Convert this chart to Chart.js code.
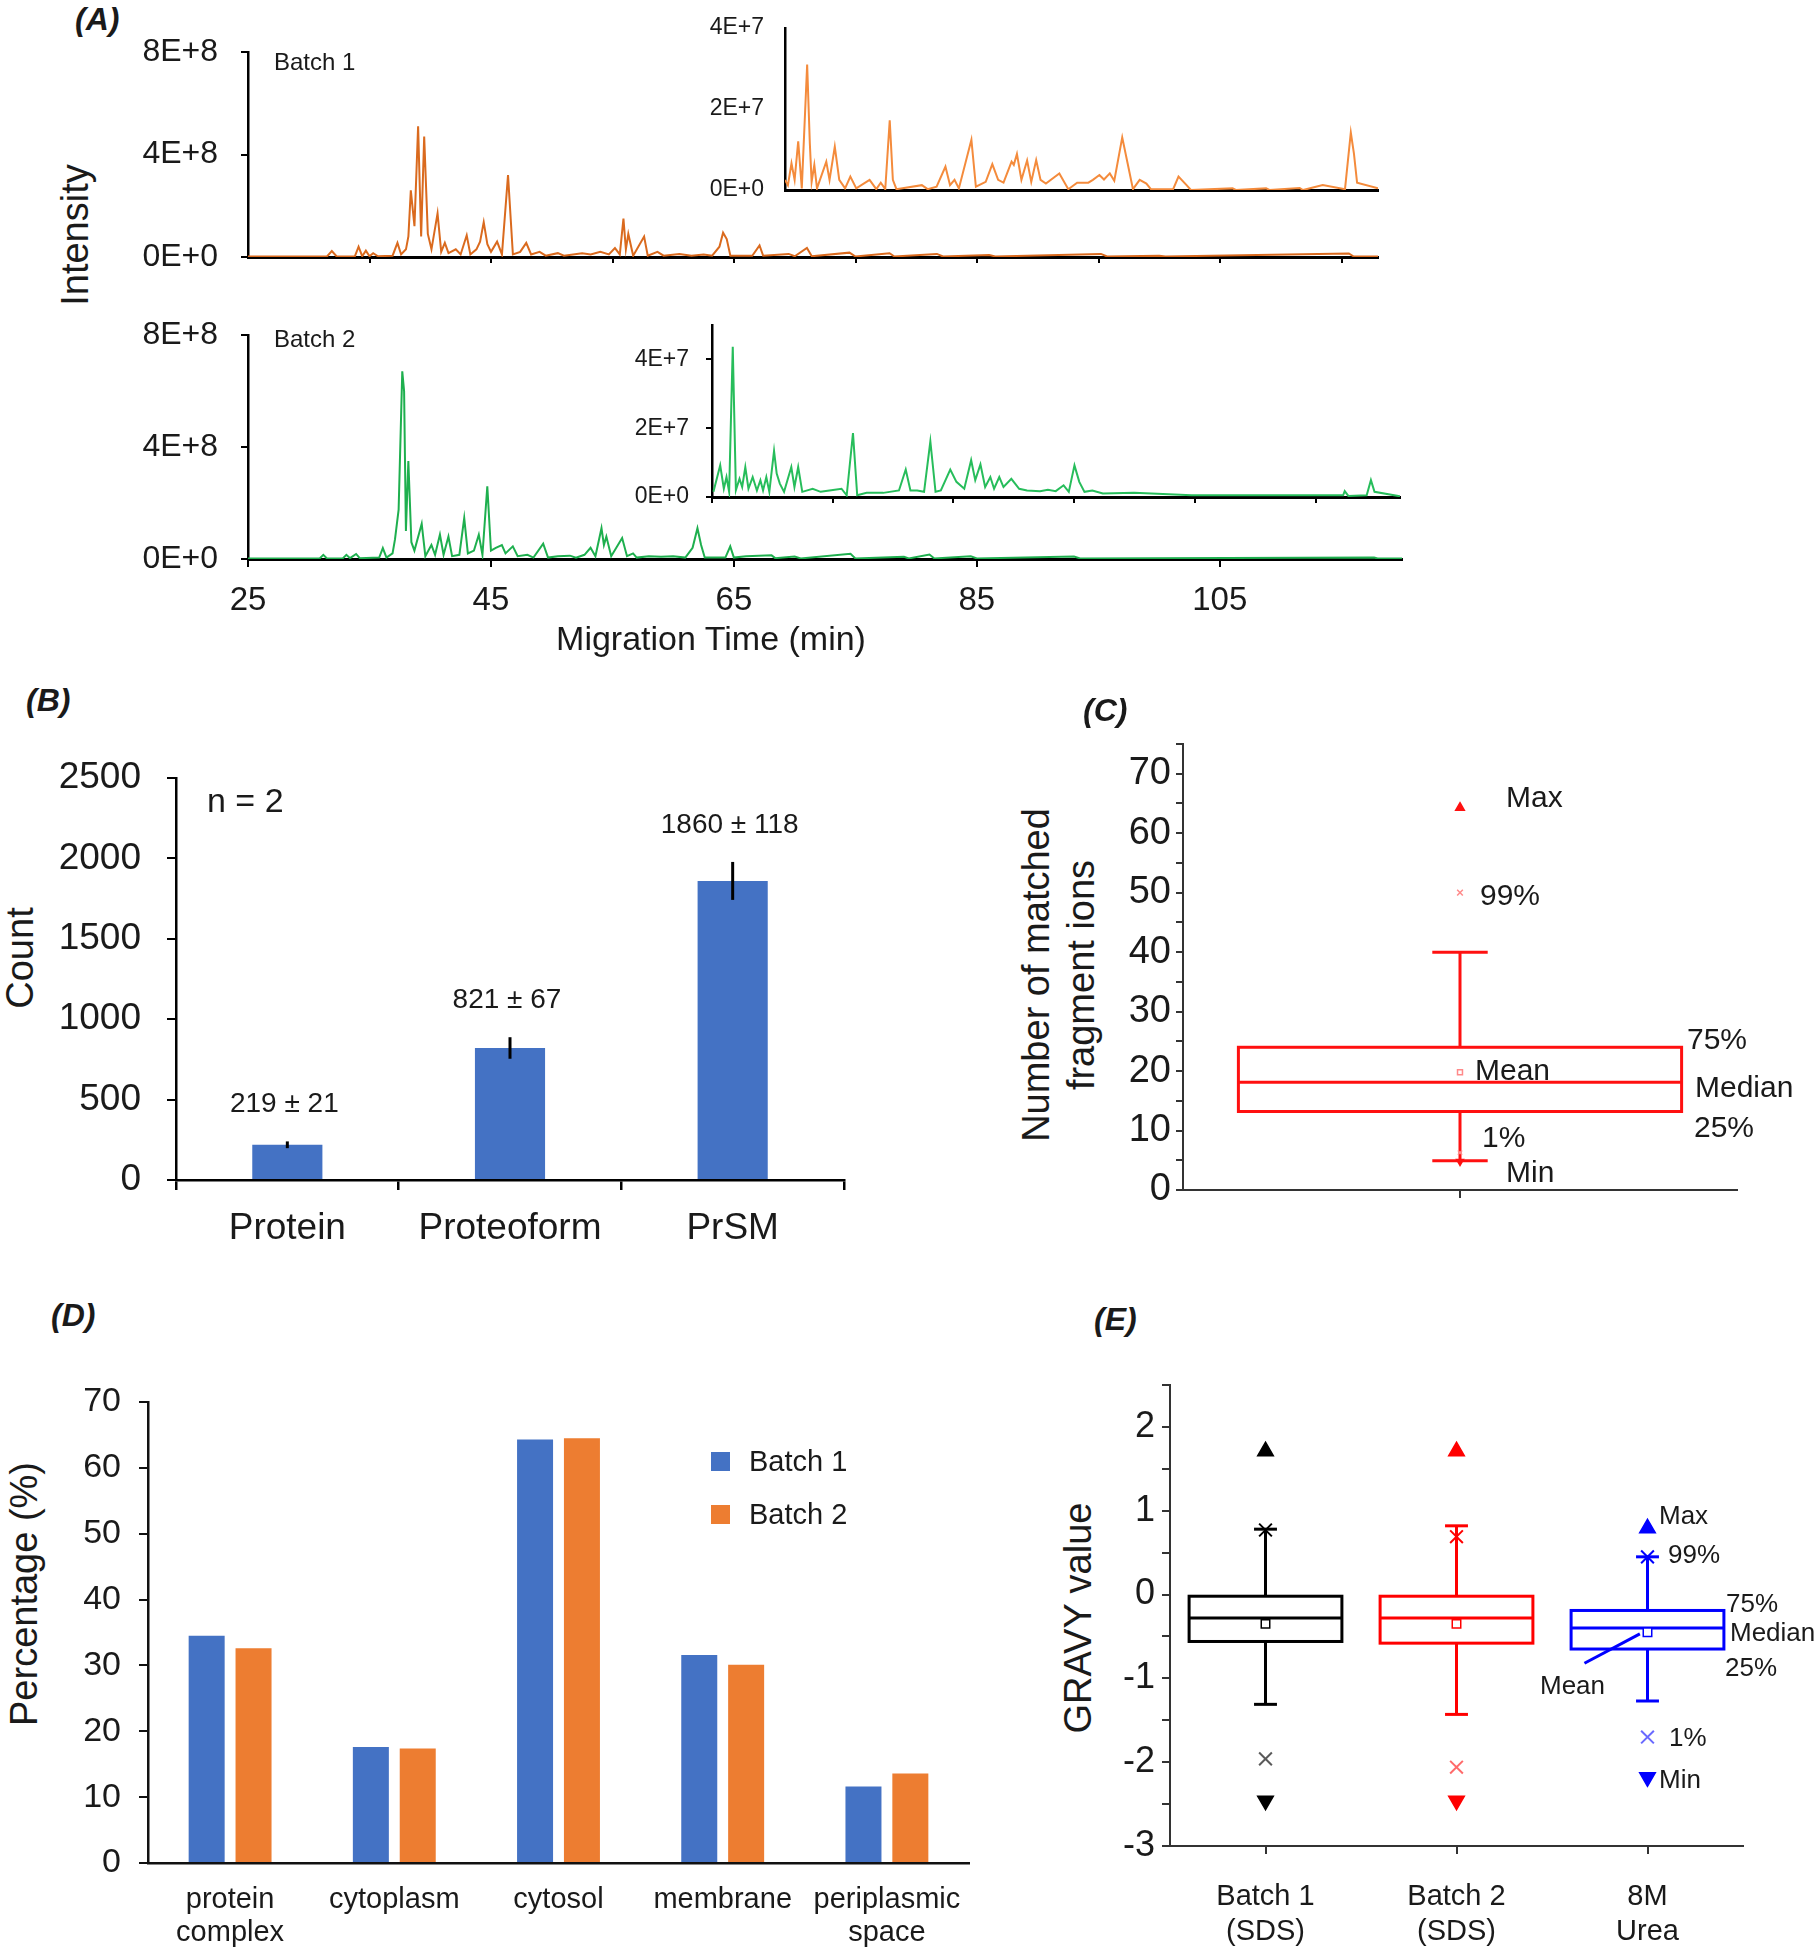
<!DOCTYPE html>
<html>
<head>
<meta charset="utf-8">
<script src="https://cdn.jsdelivr.net/npm/chart.js@4.4.1/dist/chart.umd.min.js"></script>
<style>
  body { margin: 0; background: #fff; width: 1817px; height: 1950px; position: relative; overflow: hidden;
         font-family: 'Liberation Sans', Arial, sans-serif; color: #1a1a1a; }
  canvas { position: absolute; }
  .t { position: absolute; white-space: nowrap; line-height: 1; transform: translateY(-50%); }
  .c { transform: translate(-50%, -50%); }
  .r { transform: translate(-50%, -50%) rotate(-90deg); }
  .p { font-weight: bold; font-style: italic; }
  .sq { position: absolute; width: 19px; height: 19px; }
</style>
</head>
<body>
<canvas id="a1"></canvas>
<canvas id="a1i"></canvas>
<canvas id="a2"></canvas>
<canvas id="a2i"></canvas>
<canvas id="b"></canvas>
<canvas id="c"></canvas>
<canvas id="d"></canvas>
<canvas id="e"></canvas>
<div id="txt"></div>

<script>
// ---- (A) electropherograms: migration time (min) / intensity ----
const batch1Time = [25, 31.5, 31.9, 32.3, 33.8, 34.1, 34.4, 34.7, 35, 35.3, 35.7, 36.9, 37.3, 37.6, 38, 38.2, 38.4, 38.7, 39, 39.25,
  39.5, 39.8, 40.1, 40.6, 40.9, 41.2, 41.5, 42.1, 42.5, 43, 43.3, 43.8, 44.1, 44.4, 44.7, 45, 45.5, 45.9, 46.4, 46.8,
  47.4, 47.9, 48.3, 49, 49.5, 50.5, 51, 52.5, 53.2, 54, 54.7, 55.2, 55.6, 55.9, 56.1, 56.3, 56.7, 57.6, 57.9, 58.7,
  59.2, 60.5, 61.5, 62.5, 63.2, 63.8, 64.1, 64.4, 64.7, 66.5, 67.1, 67.4, 69.5, 70, 71, 71.4, 74.5, 75, 77.8, 78.2,
  81.7, 82.2, 86, 86.5, 95.2, 95.7, 100, 100.5, 115.6, 116, 118];
const batch1Intensity = [0.02e8, 0.02e8, 0.23e8, 0.02e8, 0.03e8, 0.4e8, 0.03e8, 0.25e8, 0.03e8, 0.15e8, 0.03e8, 0.05e8, 0.55e8, 0.1e8, 0.3e8, 0.8e8, 2.6e8, 1.2e8, 5.1e8, 0.8e8,
  4.7e8, 0.9e8, 0.3e8, 1.7e8, 0.2e8, 0.55e8, 0.15e8, 0.3e8, 0.1e8, 0.85e8, 0.1e8, 0.3e8, 0.6e8, 1.36e8, 0.5e8, 0.2e8, 0.6e8, 0.1e8, 3.2e8, 0.1e8,
  0.2e8, 0.55e8, 0.1e8, 0.2e8, 0.05e8, 0.15e8, 0.05e8, 0.15e8, 0.1e8, 0.2e8, 0.1e8, 0.35e8, 0.1e8, 1.5e8, 0.3e8, 0.9e8, 0.05e8, 0.8e8, 0.05e8, 0.2e8,
  0.05e8, 0.12e8, 0.05e8, 0.1e8, 0.05e8, 0.4e8, 0.95e8, 0.7e8, 0.05e8, 0.05e8, 0.45e8, 0.05e8, 0.12e8, 0.03e8, 0.35e8, 0.03e8, 0.17e8, 0.02e8, 0.15e8, 0.02e8,
  0.12e8, 0.02e8, 0.08e8, 0.02e8, 0.12e8, 0.02e8, 0.05e8, 0.02e8, 0.14e8, 0.02e8, 0.02e8];

const batch1InsetTime = [65, 65.26, 65.58, 65.86, 66.18, 66.5, 66.98, 67.22, 67.38, 67.62, 67.86, 68.69, 68.98, 69.45, 69.85, 70.37, 70.84, 71.37, 72.56, 73.16,
  73.56, 73.96, 74.36, 74.64, 74.96, 77.23, 77.75, 78.55, 79.34, 79.75, 80.15, 80.54, 81.66, 82.06, 82.94, 83.53, 84.05, 84.53, 85.25, 85.45,
  85.73, 86.13, 86.64, 87.01, 87.45, 87.84, 88.32, 89.52, 90.32, 91.11, 92.11, 92.52, 93.1, 93.51, 94.03, 94.43, 95.14, 95.62, 96.1, 96.7,
  97.3, 97.7, 99.69, 100.17, 100.89, 101.28, 105, 105.3, 108, 108.3, 111, 111.3, 113.06, 115.05, 115.57, 115.85, 116.13, 118];
const batch1InsetIntensity = [0.25e7, 0.12e7, 0.66e7, 0.25e7, 1.2e7, 0.04e7, 3.1e7, 1.15e7, 0.2e7, 0.62e7, 0.04e7, 0.7e7, 0.25e7, 1.07e7, 0.25e7, 0.04e7, 0.33e7, 0.04e7, 0.25e7, 0.02e7,
  0.18e7, 0.02e7, 1.72e7, 0.25e7, 0.02e7, 0.12e7, 0.02e7, 0.08e7, 0.58e7, 0.12e7, 0.25e7, 0.04e7, 1.24e7, 0.08e7, 0.2e7, 0.64e7, 0.25e7, 0.18e7, 0.7e7, 0.62e7,
  0.89e7, 0.25e7, 0.73e7, 0.2e7, 0.74e7, 0.25e7, 0.16e7, 0.41e7, 0.02e7, 0.18e7, 0.18e7, 0.25e7, 0.37e7, 0.26e7, 0.41e7, 0.23e7, 1.3e7, 0.66e7, 0.02e7, 0.25e7,
  0.16e7, 0.02e7, 0.02e7, 0.33e7, 0.12e7, 0, 0.04e7, 0, 0.04e7, 0, 0.05e7, 0, 0.12e7, 0.02e7, 1.42e7, 0.9e7, 0.18e7, 0.04e7];

const batch2Time = [25, 30.9, 31.2, 31.5, 32.8, 33.1, 33.4, 33.9, 34.2, 35.8, 36.1, 36.4, 36.9, 37.1, 37.4, 37.7, 37.85, 38, 38.2, 38.45,
  38.7, 39.3, 39.6, 40.1, 40.4, 40.8, 41.1, 41.5, 41.8, 42.4, 42.8, 43.1, 43.6, 44, 44.3, 44.7, 45, 45.4, 45.9, 46.2,
  46.8, 47.2, 48, 48.5, 49.3, 49.7, 50.5, 51.5, 52, 52.7, 53.2, 53.6, 54.1, 54.3, 54.5, 54.9, 55.8, 56.2, 56.7, 57,
  58, 59, 60, 61, 61.6, 62, 62.3, 62.6, 64.3, 64.7, 65, 66, 68.1, 68.4, 70, 70.5, 74.6, 75, 79, 79.4,
  81.1, 81.5, 84.5, 85, 93, 93.5, 117.7, 118, 120];
const batch2Intensity = [0.02e8, 0.02e8, 0.15e8, 0.02e8, 0.02e8, 0.15e8, 0.03e8, 0.18e8, 0.03e8, 0.05e8, 0.39e8, 0.05e8, 0.2e8, 0.7e8, 1.76e8, 6.7e8, 6.0e8, 1.0e8, 3.5e8, 0.6e8,
  0.3e8, 1.26e8, 0.1e8, 0.5e8, 0.15e8, 0.87e8, 0.15e8, 0.8e8, 0.1e8, 0.15e8, 1.46e8, 0.2e8, 0.3e8, 0.87e8, 0.15e8, 2.6e8, 0.3e8, 0.4e8, 0.5e8, 0.2e8,
  0.45e8, 0.1e8, 0.15e8, 0.05e8, 0.55e8, 0.05e8, 0.1e8, 0.12e8, 0.05e8, 0.15e8, 0.4e8, 0.1e8, 1.1e8, 0.5e8, 0.8e8, 0.1e8, 0.75e8, 0.1e8, 0.2e8, 0.05e8,
  0.1e8, 0.08e8, 0.1e8, 0.05e8, 0.4e8, 1.1e8, 0.5e8, 0.05e8, 0.05e8, 0.45e8, 0.05e8, 0.1e8, 0.13e8, 0.03e8, 0.09e8, 0.02e8, 0.19e8, 0.02e8, 0.08e8, 0.02e8,
  0.16e8, 0.02e8, 0.1e8, 0.02e8, 0.09e8, 0.02e8, 0.05e8, 0.02e8, 0.02e8];

const batch2InsetTime = [63.12, 63.68, 63.98, 64.2, 64.42, 64.72, 64.98, 65.28, 65.5, 65.76, 66.02, 66.37, 66.72, 67.01, 67.23, 67.5, 67.75, 68.14, 68.36, 68.62,
  68.97, 69.57, 69.83, 70.14, 70.48, 71.34, 72, 72.73, 73.73, 74.16, 74.68, 75.03, 75.81, 77.19, 78.49, 79.05, 79.44, 80, 80.57, 81.09,
  81.52, 81.96, 82.74, 83.25, 83.9, 84.47, 84.81, 85.24, 85.63, 86.06, 86.37, 86.8, 87.15, 87.8, 88.45, 89.1, 90.18, 90.83, 91.48, 92.13,
  92.56, 93.03, 93.43, 93.86, 94.51, 95.38, 97.97, 102.74, 115.29, 115.42, 115.72, 117.24, 117.59, 117.89, 120];
const batch2InsetIntensity = [0.15e7, 0.92e7, 0.24e7, 0.58e7, 0.15e7, 4.37e7, 0.2e7, 0.53e7, 0.29e7, 0.87e7, 0.24e7, 0.58e7, 0.19e7, 0.49e7, 0.19e7, 0.58e7, 0.15e7, 1.34e7, 0.68e7, 0.39e7,
  0.15e7, 0.87e7, 0.29e7, 0.87e7, 0.15e7, 0.24e7, 0.15e7, 0.19e7, 0.24e7, 0.05e7, 1.86e7, 0.05e7, 0.12e7, 0.12e7, 0.19e7, 0.8e7, 0.19e7, 0.19e7, 0.15e7, 1.62e7,
  0.15e7, 0.19e7, 0.8e7, 0.44e7, 0.24e7, 1.07e7, 0.49e7, 0.95e7, 0.29e7, 0.58e7, 0.24e7, 0.58e7, 0.29e7, 0.53e7, 0.24e7, 0.19e7, 0.17e7, 0.21e7, 0.17e7, 0.34e7,
  0.15e7, 0.92e7, 0.44e7, 0.15e7, 0.19e7, 0.1e7, 0.12e7, 0.05e7, 0.05e7, 0.17e7, 0.03e7, 0.05e7, 0.49e7, 0.15e7, 0.02e7];

const mainYTicks = [0, 4e8, 8e8];
const insetYTicks = [0, 2e7, 4e7];
const topXTicks = [35, 45, 55, 65, 75, 85, 95, 105, 115];
const bottomXTicks = [25, 45, 65, 85, 105];
const insetXTicks = [63, 73, 83, 93, 103, 113];

// ---- (B) identifications ----
const idCategories = ['Protein', 'Proteoform', 'PrSM'];
const idMeans = [219, 821, 1860];
const idSD = [21, 67, 118];
const idYTicks = [0, 500, 1000, 1500, 2000, 2500];

// ---- (C) matched fragment ions ----
const fragPos = [1];
const fragQ1 = [13.2];
const fragMedian = [18.1];
const fragQ3 = [24];
const fragMean = [19.8];
const fragWhiskerLow = [4.9];
const fragWhiskerHigh = [40];
const fragP1 = [6.3];
const fragP99 = [50];
const fragMin = [4.8];
const fragMax = [64.3];
const fragYTicks = [0, 5, 10, 15, 20, 25, 30, 35, 40, 45, 50, 55, 60, 65, 70, 75];

// ---- (D) cellular location ----
const locations = [['protein', 'complex'], 'cytoplasm', 'cytosol', 'membrane', ['periplasmic', 'space']];
const locBatch1 = [34.5, 17.6, 64.3, 31.6, 11.6];
const locBatch2 = [32.6, 17.4, 64.5, 30.1, 13.6];
const locYTicks = [0, 10, 20, 30, 40, 50, 60, 70];

// ---- (E) GRAVY ----
const gravyGroups = [['Batch 1', '(SDS)'], ['Batch 2', '(SDS)'], ['8M', 'Urea']];
const gravyPos = [1, 2, 3];
const gravyQ1 = [-0.56, -0.58, -0.65];
const gravyMedian = [-0.28, -0.28, -0.40];
const gravyQ3 = [-0.02, -0.02, -0.19];
const gravyMean = [-0.35, -0.35, -0.45];
const gravyWhiskerLow = [-1.31, -1.43, -1.27];
const gravyWhiskerHigh = [0.78, 0.82, 0.45];
const gravyP1 = [-1.96, -2.06, -1.70];
const gravyP99 = [0.77, 0.69, 0.45];
const gravyMin = [-2.46, -2.46, -2.18];
const gravyMax = [1.71, 1.71, 0.79];
const gravyYTicks = [-3, -2.5, -2, -1.5, -1, -0.5, 0, 0.5, 1, 1.5, 2, 2.5];

// ---- helpers ----
const FONT = "'Liberation Sans', Arial, sans-serif";
const INK = '#1a1a1a';
const font = (size, lineHeight = 1.2) => ({ family: FONT, size, lineHeight });
const toPoints = (xs, ys) => xs.map((x, i) => ({ x, y: ys[i] }));
const fixedTicks = values => s => { s.ticks = values.map(v => ({ value: v })); };

// keep the chart area exactly where the layout padding puts it
function noPad(s) { s.paddingLeft = 0; s.paddingRight = 0; s.paddingTop = 0; s.paddingBottom = 0; }

function sci(v) {
  if (v === 0) return '0E+0';
  const e = Math.floor(Math.log10(v) + 1e-9);
  return Math.round(v / Math.pow(10, e)) + 'E+' + e;
}

// place canvas so that the chart area lands on the given page rectangle
function frame(id, area, yW, xH, padT = 30, padR = 45) {
  const c = document.getElementById(id);
  const left = area.l - yW, top = area.t - padT;
  c.width = Math.round(area.r + padR - left);
  c.height = Math.round(area.b + xH - top);
  c.style.left = left + 'px';
  c.style.top = top + 'px';
  return { canvas: c, layout: { padding: { top: padT, right: padR, left: 0, bottom: 0 } } };
}

function base(layout) {
  return {
    responsive: false, animation: false, devicePixelRatio: 1, layout,
    plugins: { legend: { display: false }, tooltip: { enabled: false } },
  };
}

function axisX(o) {
  return {
    type: 'linear', min: o.min, max: o.max,
    afterBuildTicks: fixedTicks(o.ticks),
    afterFit: s => { s.height = o.h; noPad(s); },
    grid: { drawOnChartArea: false, drawTicks: o.tickLen > 0, tickLength: o.tickLen, color: o.color || '#000', lineWidth: 2 },
    border: { color: o.color || '#000', width: o.bw },
    ticks: { autoSkip: false, maxRotation: 0, font: font(o.fs || 12, o.lh || 1.2), color: INK, padding: o.pad || 0,
             callback: o.label || (() => '') },
  };
}

function axisY(o) {
  return {
    min: o.min, max: o.max,
    afterBuildTicks: fixedTicks(o.ticks),
    afterFit: s => { s.width = o.w; noPad(s); },
    grid: { drawOnChartArea: false, drawTicks: o.tickLen > 0, tickLength: o.tickLen, color: o.color || '#000', lineWidth: 2 },
    border: { color: o.color || '#000', width: o.bw },
    ticks: { autoSkip: false, font: font(o.fs), color: INK, padding: o.pad, callback: o.label },
  };
}

function traceChart(id, area, o) {
  const f = frame(id, area, o.yW, o.xH);
  return new Chart(f.canvas, {
    type: 'line',
    data: { datasets: [{ data: toPoints(o.t, o.v), borderColor: o.color, borderWidth: o.lw, pointRadius: 0, tension: 0, fill: false }] },
    options: Object.assign(base(f.layout), {
      scales: {
        x: axisX({ min: o.xMin, max: o.xMax, ticks: o.xTicks, h: o.xH, tickLen: o.xTickLen, bw: 3, fs: o.xFs, pad: o.xPad, label: o.xLabel }),
        y: axisY({ min: 0, max: o.yMax, ticks: o.yTicks, w: o.yW, tickLen: o.yTickLen, bw: 2.5, fs: o.yFs, pad: o.yPad, label: sci }),
      },
    }),
  });
}

// (A) Batch 1
traceChart('a1', { l: 248, t: 52.3, r: 1378, b: 257.7 }, {
  t: batch1Time, v: batch1Intensity, color: '#DA6A1E', lw: 2,
  xMin: 25, xMax: 118, xTicks: topXTicks, xTickLen: 6, xH: 20,
  yMax: 8e8, yTicks: mainYTicks, yW: 125, yTickLen: 7, yFs: 32, yPad: 23,
});
traceChart('a1i', { l: 785, t: 28.3, r: 1378, b: 190 }, {
  t: batch1InsetTime, v: batch1InsetIntensity, color: '#F48B3C', lw: 2,
  xMin: 65, xMax: 118, xTicks: [65], xTickLen: 0, xH: 10,
  yMax: 4e7, yTicks: insetYTicks, yW: 90, yTickLen: 0, yFs: 23, yPad: 21,
});
// (A) Batch 2
traceChart('a2', { l: 248, t: 335, r: 1402, b: 559.3 }, {
  t: batch2Time, v: batch2Intensity, color: '#1EAF4E', lw: 2,
  xMin: 25, xMax: 120, xTicks: bottomXTicks, xTickLen: 8, xH: 70, xFs: 33, xPad: 14, xLabel: v => String(v),
  yMax: 8e8, yTicks: mainYTicks, yW: 125, yTickLen: 7, yFs: 32, yPad: 23,
});
traceChart('a2i', { l: 711.8, t: 325, r: 1400, b: 496.7 }, {
  t: batch2InsetTime, v: batch2InsetIntensity, color: '#27BD5B', lw: 2,
  xMin: 63, xMax: 120, xTicks: insetXTicks, xTickLen: 6, xH: 12,
  yMax: 5e7, yTicks: insetYTicks, yW: 90, yTickLen: 6, yFs: 23, yPad: 17,
});

// (B) bar chart with error bars
(function () {
  const f = frame('b', { l: 175.5, t: 778, r: 843, b: 1180 }, 130, 80);
  const errorBars = {
    id: 'errorBars',
    afterDatasetsDraw(chart) {
      const { ctx, scales: { y } } = chart;
      const meta = chart.getDatasetMeta(0);
      ctx.save();
      ctx.strokeStyle = '#000';
      ctx.lineWidth = 3;
      ctx.fillStyle = INK;
      ctx.font = '28px ' + FONT;
      ctx.textAlign = 'center';
      ctx.textBaseline = 'middle';
      meta.data.forEach((bar, i) => {
        const hi = y.getPixelForValue(idMeans[i] + idSD[i]);
        const lo = y.getPixelForValue(idMeans[i] - idSD[i]);
        ctx.beginPath(); ctx.moveTo(bar.x, lo); ctx.lineTo(bar.x, hi); ctx.stroke();
        ctx.fillText(idMeans[i] + ' \u00b1 ' + idSD[i], bar.x - 3, hi - 37);
      });
      ctx.restore();
    },
  };
  new Chart(f.canvas, {
    type: 'bar',
    data: { labels: idCategories, datasets: [{ data: idMeans, backgroundColor: '#4472C4', categoryPercentage: 1, barPercentage: 0.315 }] },
    options: Object.assign(base(f.layout), {
      scales: {
        x: {
          afterFit: s => { s.height = 80; noPad(s); },
          grid: { drawOnChartArea: false, tickLength: 10, color: '#000', lineWidth: 2.5, offset: true },
          border: { color: '#000', width: 2.5 },
          ticks: { font: font(37), color: INK, padding: 17 },
        },
        y: axisY({ min: 0, max: 2500, ticks: idYTicks, w: 130, tickLen: 9, bw: 2.5, fs: 37, pad: 26, label: v => String(v) }),
      },
    }),
    plugins: [errorBars],
  });
})();

// box plots drawn through the chart scales
function boxPlugin(s) {
  return {
    id: 'box_' + s.name,
    beforeDatasetsDraw(chart) {
      const { ctx, scales: { x, y } } = chart;
      ctx.save();
      ctx.lineWidth = s.lw;
      const seg = (x1, y1, x2, y2) => { ctx.beginPath(); ctx.moveTo(x1, y1); ctx.lineTo(x2, y2); ctx.stroke(); };
      s.pos.forEach((p, i) => {
        ctx.strokeStyle = s.colors[i];
        const l = x.getPixelForValue(p - s.half), r = x.getPixelForValue(p + s.half), cx = x.getPixelForValue(p);
        const cl = x.getPixelForValue(p - s.cap), cr = x.getPixelForValue(p + s.cap);
        const q1 = y.getPixelForValue(s.q1[i]), q3 = y.getPixelForValue(s.q3[i]), md = y.getPixelForValue(s.med[i]);
        const lo = y.getPixelForValue(s.lo[i]), hi = y.getPixelForValue(s.hi[i]);
        ctx.strokeRect(l, q3, r - l, q1 - q3);
        seg(l, md, r, md);
        seg(cx, q3, cx, hi); seg(cl, hi, cr, hi);
        seg(cx, q1, cx, lo); seg(cl, lo, cr, lo);
      });
      if (s.pointer) {
        const pp = s.pointer;
        ctx.strokeStyle = pp.color;
        ctx.lineWidth = 3;
        seg(x.getPixelForValue(pp.from[0]), y.getPixelForValue(pp.from[1]), x.getPixelForValue(pp.to[0]), y.getPixelForValue(pp.to[1]));
      }
      ctx.restore();
    },
  };
}

function markers(pos, values, style, radius, colors, opts = {}) {
  return Object.assign({
    data: toPoints(pos, values), pointStyle: style, pointRadius: radius,
    pointBackgroundColor: colors, pointBorderColor: colors, pointBorderWidth: 1.5,
  }, opts);
}

// (C)
(function () {
  const f = frame('c', { l: 1183.4, t: 744, r: 1737, b: 1189.7 }, 70, 20);
  const red = '#FF1010', pale = '#FF8A8A';
  new Chart(f.canvas, {
    type: 'scatter',
    data: {
      datasets: [
        markers(fragPos, fragMax, 'triangle', 5, red),
        markers(fragPos, fragP99, 'crossRot', 4, pale),
        markers(fragPos, fragMean, 'rect', 3.5, pale, { pointBackgroundColor: '#fff', pointBorderWidth: 1.5 }),
        markers(fragPos, fragP1, 'crossRot', 3, pale),
        markers(fragPos, fragMin, 'triangle', 4, red, { pointRotation: 180 }),
      ],
    },
    options: Object.assign(base(f.layout), {
      scales: {
        x: axisX({ min: 0.5, max: 1.5, ticks: fragPos, h: 20, tickLen: 8, bw: 2, color: '#333' }),
        y: axisY({ min: 0, max: 75, ticks: fragYTicks, w: 70, tickLen: 7, bw: 2, fs: 38, pad: 5, color: '#333',
                   label: v => (v % 10 === 0 ? String(v) : '') }),
      },
    }),
    plugins: [boxPlugin({ name: 'c', pos: fragPos, q1: fragQ1, med: fragMedian, q3: fragQ3, lo: fragWhiskerLow, hi: fragWhiskerHigh,
                          colors: [red], half: 0.4, cap: 0.05, lw: 3 })],
  });
})();

// (D) grouped bars
(function () {
  const f = frame('d', { l: 148, t: 1401.5, r: 969.4, b: 1862.4 }, 80, 90);
  new Chart(f.canvas, {
    type: 'bar',
    data: {
      labels: locations,
      datasets: [
        { label: 'Batch 1', data: locBatch1, backgroundColor: '#4472C4', categoryPercentage: 0.571, barPercentage: 0.768 },
        { label: 'Batch 2', data: locBatch2, backgroundColor: '#ED7D31', categoryPercentage: 0.571, barPercentage: 0.768 },
      ],
    },
    options: Object.assign(base(f.layout), {
      scales: {
        x: {
          afterFit: s => { s.height = 90; noPad(s); },
          grid: { display: false, drawTicks: false },
          border: { color: '#111', width: 2.5 },
          ticks: { font: font(29, 1.12), color: INK, padding: 21, maxRotation: 0, autoSkip: false },
        },
        y: axisY({ min: 0, max: 70, ticks: locYTicks, w: 80, tickLen: 9, bw: 2.5, fs: 34, pad: 18, color: '#111', label: v => String(v) }),
      },
    }),
  });
})();

// (E)
(function () {
  const f = frame('e', { l: 1169.8, t: 1385, r: 1742.7, b: 1845.6 }, 70, 110);
  const cols = ['#000000', '#FF0000', '#0000FF'];
  const pale = ['#5a5a5a', '#FF6A6A', '#6A6AFF'];
  new Chart(f.canvas, {
    type: 'scatter',
    data: {
      datasets: [
        markers(gravyPos, gravyMax, 'triangle', 9, cols),
        markers(gravyPos, gravyP99, 'crossRot', 9, cols, { pointBorderWidth: 2 }),
        markers(gravyPos, gravyMean, 'rect', 6, cols, { pointBackgroundColor: '#fff', pointBorderWidth: 1.5 }),
        markers(gravyPos, gravyP1, 'crossRot', 9, pale, { pointBorderWidth: 2 }),
        markers(gravyPos, gravyMin, 'triangle', 9, cols, { pointRotation: 180 }),
      ],
    },
    options: Object.assign(base(f.layout), {
      scales: {
        x: axisX({ min: 0.5, max: 3.5, ticks: gravyPos, h: 110, tickLen: 8, bw: 2, color: '#333', fs: 29, pad: 26,
                   label: v => gravyGroups[v - 1] }),
        y: axisY({ min: -3, max: 2.5, ticks: gravyYTicks, w: 70, tickLen: 8, bw: 2, fs: 36, pad: 7, color: '#333',
                   label: v => (Number.isInteger(v) ? String(v) : '') }),
      },
    }),
    plugins: [boxPlugin({ name: 'e', pos: gravyPos, q1: gravyQ1, med: gravyMedian, q3: gravyQ3, lo: gravyWhiskerLow, hi: gravyWhiskerHigh,
                          colors: cols, half: 0.4, cap: 0.06, lw: 3,
                          pointer: { from: [2.67, -0.82], to: [2.96, -0.47], color: '#0000FF' } })],
  });
})();

// ---- text overlays ----
const texts = [
  ['(A)', 75, 19, 32, 'p'], ['Batch 1', 274, 62, 24], ['Batch 2', 274, 339, 24],
  ['Intensity', 75, 235, 38, 'r'], ['Migration Time (min)', 711, 638, 34, 'c'],
  ['(B)', 26, 700, 32, 'p'], ['n = 2', 207, 800, 34], ['Count', 20, 958, 38, 'r'],
  ['(C)', 1083, 710, 32, 'p'], ['Number of matched', 1036, 975, 38, 'r'], ['fragment ions', 1081, 975, 38, 'r'],
  ['Max', 1506, 797, 30], ['99%', 1480, 895, 30], ['75%', 1687, 1039, 30], ['Mean', 1475, 1070, 30],
  ['Median', 1695, 1087, 30], ['25%', 1694, 1127, 30], ['1%', 1482, 1137, 30], ['Min', 1506, 1172, 30],
  ['(D)', 51, 1315, 32, 'p'], ['Percentage (%)', 24, 1594, 38, 'r'], ['Batch 1', 749, 1461, 29], ['Batch 2', 749, 1514, 29],
  ['(E)', 1094, 1319, 32, 'p'], ['GRAVY value', 1078, 1618, 38, 'r'],
  ['Max', 1659, 1515, 26], ['99%', 1668, 1554, 26], ['75%', 1726, 1603, 26], ['Median', 1730, 1632, 26],
  ['25%', 1725, 1667, 26], ['Mean', 1540, 1685, 26], ['1%', 1669, 1737, 26], ['Min', 1659, 1779, 26],
];
const holder = document.getElementById('txt');
texts.forEach(([s, x, y, size, cls]) => {
  const d = document.createElement('div');
  d.className = 't' + (cls ? ' ' + cls : '');
  d.textContent = s;
  d.style.left = x + 'px';
  d.style.top = y + 'px';
  d.style.fontSize = size + 'px';
  holder.appendChild(d);
});
[['#4472C4', 711, 1452], ['#ED7D31', 711, 1505]].forEach(([c, x, y]) => {
  const d = document.createElement('div');
  d.className = 'sq';
  d.style.background = c;
  d.style.left = x + 'px';
  d.style.top = y + 'px';
  holder.appendChild(d);
});
</script>
</body>
</html>
